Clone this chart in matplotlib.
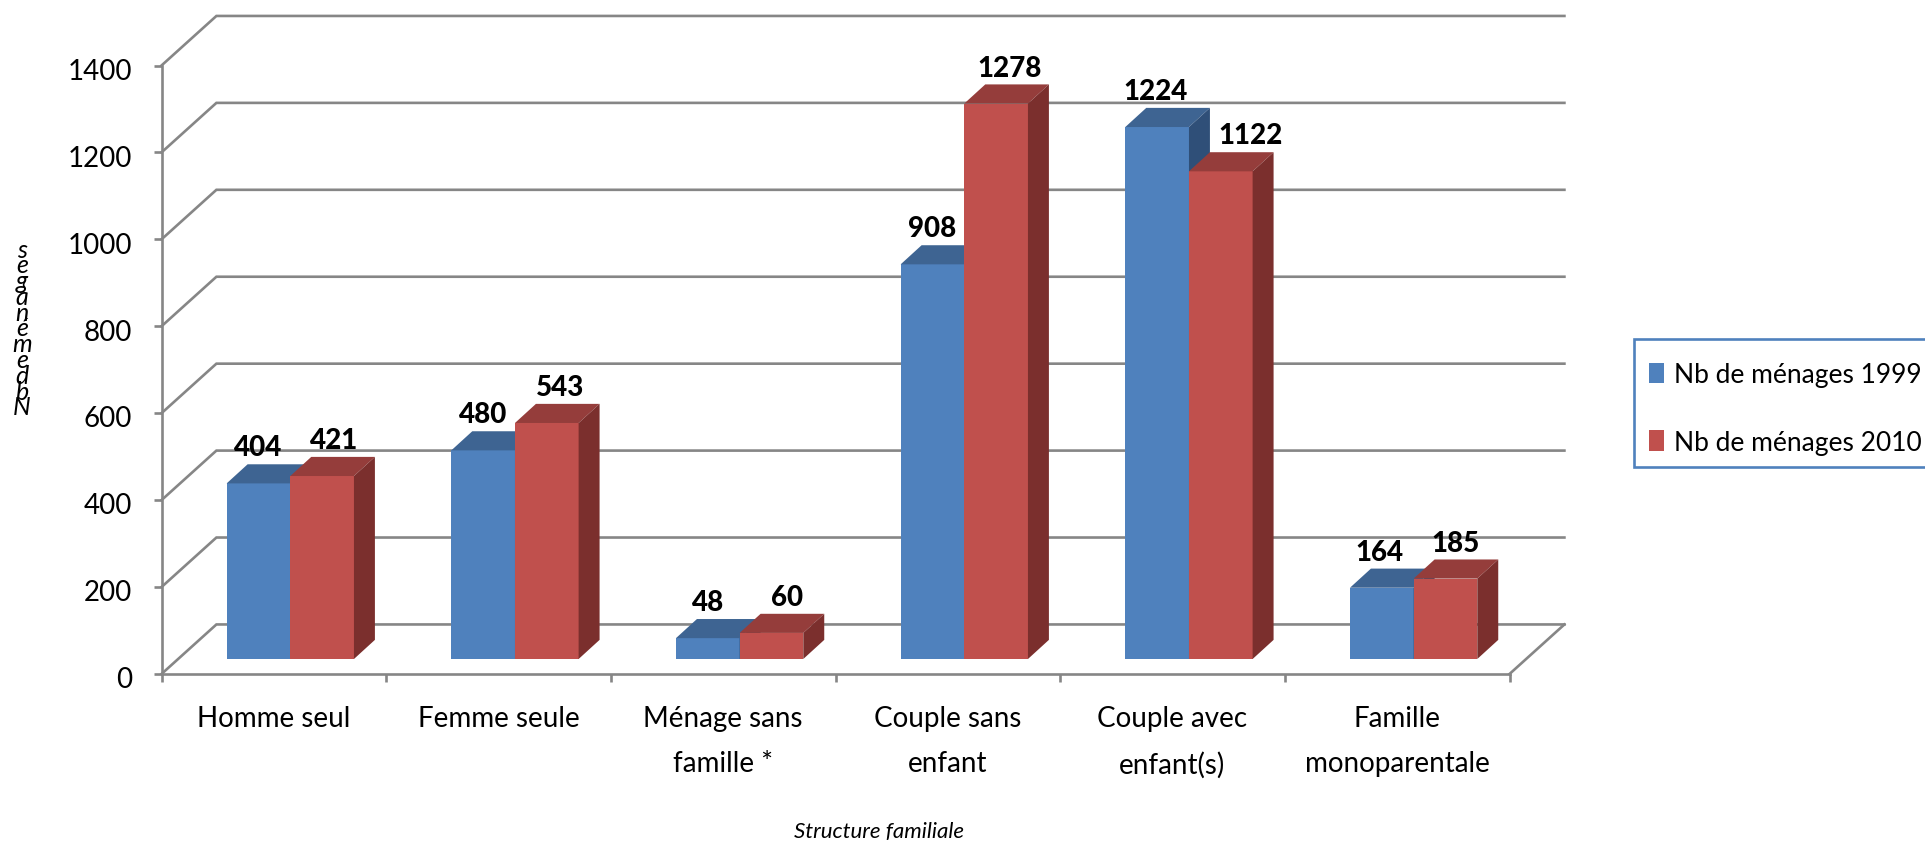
import matplotlib
matplotlib.use('Agg')
import matplotlib.pyplot as plt
from matplotlib.patches import Polygon, Patch, Rectangle
from matplotlib.transforms import ScaledTranslation

plt.rcParams['font.family'] = ['Lato', 'DejaVu Sans']

# data
categories = ['Homme seul', 'Femme seule', 'Ménage sans\nfamille *', 'Couple sans\nenfant',
              'Couple avec\nenfant(s)', 'Famille\nmonoparentale']
menages_1999 = [404, 480, 48, 908, 1224, 164]
menages_2010 = [421, 543, 60, 1278, 1122, 185]
y_ticks = [0, 200, 400, 600, 800, 1000, 1200, 1400]
series_names = ['Nb de ménages 1999', 'Nb de ménages 2010']

# colours: front, top, side
blue = ('#4F81BD', '#3E6492', '#2F4F78')
red = ('#C0504D', '#953D3B', '#7B2F2D')
grey = '#868686'

W, H = 1925, 845
fig = plt.figure(figsize=(W / 100, H / 100), dpi=100)
ax = fig.add_axes([161.5 / W, (H - 675) / H, 1348 / W, 608.5 / H])
ax.set_xlim(0, 6)
ax.set_ylim(0, 1400)

# fake 3d depth, in data units
wall_dx, wall_dy = 0.2444, 114
bar_dx, bar_dy = 0.0933, 44
lift = 34.5
bar_w = 0.2833
first = 0.29

# back wall lines
for v in y_ticks:
    ax.plot([0, wall_dx, 6 + wall_dx], [v, v + wall_dy, v + wall_dy],
            color=grey, lw=1.9, clip_on=False, zorder=1, solid_joinstyle='miter')
ax.plot([6, 6 + wall_dx], [0, wall_dy], color=grey, lw=1.9, clip_on=False, zorder=1)


def draw_series(values, offset, cols, z):
    xs = [i + first + offset for i in range(len(values))]
    ax.bar(xs, values, width=bar_w, bottom=lift, align='edge', color=cols[0], lw=0,
           zorder=z, clip_on=False)
    for x, v in zip(xs, values):
        top = lift + v
        ax.add_patch(Polygon([(x, top), (x + bar_w, top), (x + bar_w + bar_dx, top + bar_dy),
                              (x + bar_dx, top + bar_dy)], fc=cols[1], lw=0, zorder=z, clip_on=False))
        ax.add_patch(Polygon([(x + bar_w, lift), (x + bar_w + bar_dx, lift + bar_dy),
                              (x + bar_w + bar_dx, top + bar_dy), (x + bar_w, top)],
                             fc=cols[2], lw=0, zorder=z, clip_on=False))
    return xs


xs_a = draw_series(menages_1999, 0, blue, 3)
xs_b = draw_series(menages_2010, bar_w, red, 4)

# value labels, red ones are pushed right to clear the blue ones
blue_nudge = [0, 0, 0, 0, -2, -2]
red_nudge = [12, 13, 16, 13, 30, 10]
for x, v, n in zip(xs_a, menages_1999, blue_nudge):
    ax.annotate(str(v), (x + bar_w / 2, lift + v), xytext=(n, 36), textcoords='offset pixels',
                ha='center', va='center', fontsize=20, fontweight='black', color='black', zorder=6,
                annotation_clip=False)
for x, v, n in zip(xs_b, menages_2010, red_nudge):
    ax.annotate(str(v), (x + bar_w / 2, lift + v), xytext=(n, 36), textcoords='offset pixels',
                ha='center', va='center', fontsize=20, fontweight='black', color='black', zorder=6,
                annotation_clip=False)

# axes
for s in ['top', 'right']:
    ax.spines[s].set_visible(False)
for s in ['left', 'bottom']:
    ax.spines[s].set_color(grey)
    ax.spines[s].set_linewidth(1.9)
    ax.spines[s].set_zorder(2)
ax.patch.set_visible(False)

ax.set_yticks(y_ticks)
ax.tick_params(axis='y', length=6, width=1.9, color=grey, pad=15, labelsize=20)
for lab in ax.get_yticklabels():
    lab.set_transform(lab.get_transform() + ScaledTranslation(0, -2 / 72, fig.dpi_scale_trans))
ax.set_xticks(range(7))
ax.set_xticklabels([])
ax.tick_params(axis='x', which='major', length=6, width=1.9, color=grey)
ax.set_xticks([i + 0.5 for i in range(6)], minor=True)
ax.set_xticklabels(categories, minor=True, fontsize=20, linespacing=1.9)
ax.tick_params(axis='x', which='minor', length=0, pad=22.5)

# stacked axis title, reads bottom to top like the source
fig.text(22 / W, 1 - 329 / H, 's\ne\ng\na\nn\né\nm\ne\nd\nb\nN', fontsize=18, style='italic',
         ha='center', va='center', linespacing=0.62)
fig.text(879 / W, 1 - 832 / H, 'Structure familiale', fontsize=16, style='italic',
         ha='center', va='center')

# legend frame runs off the right edge
fig.add_artist(Rectangle((1634 / W, 1 - 468 / H), 320 / W, 128 / H, transform=fig.transFigure,
                         fc='white', ec='#4F81BD', lw=1.9))
handles = [Patch(fc=blue[0], lw=0), Patch(fc=red[0], lw=0)]
leg = fig.legend(handles, series_names, loc='upper left', bbox_to_anchor=(1649 / W, 1 - 363.5 / H),
                 frameon=False, fontsize=19, borderpad=0, labelspacing=1.6,
                 handlelength=0.58, handleheight=0.8, handletextpad=0.38, borderaxespad=0)

fig.savefig('out.png', dpi=100)
